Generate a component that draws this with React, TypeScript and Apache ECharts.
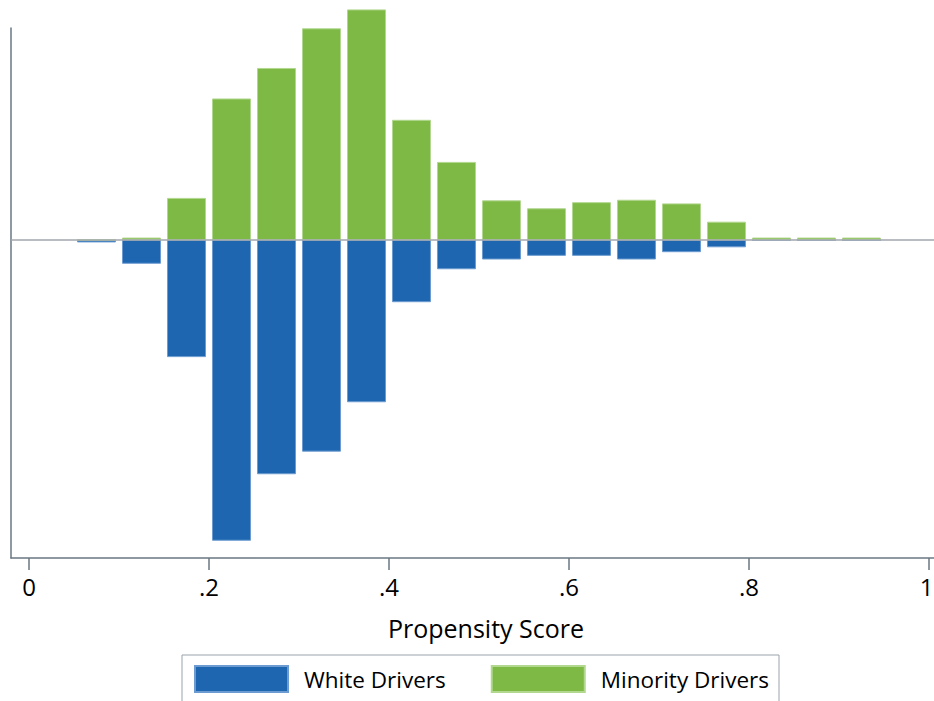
import React, { useEffect, useRef } from "react";
import * as echarts from "echarts";

// Bin midpoints of the propensity score histogram (bin width 0.05)
const binCenters = [0.075, 0.125, 0.175, 0.225, 0.275, 0.325, 0.375, 0.425, 0.475, 0.525, 0.575, 0.625, 0.675, 0.725, 0.775, 0.825, 0.875, 0.925];
// Density of minority drivers (drawn above zero)
const minorityDensity = [0, 0.04, 0.69, 2.32, 2.82, 3.47, 3.78, 1.97, 1.28, 0.65, 0.52, 0.62, 0.66, 0.6, 0.3, 0.04, 0.04, 0.04];
// Density of white drivers (drawn below zero)
const whiteDensity = [0.04, 0.39, 1.92, 4.93, 3.84, 3.47, 2.66, 1.02, 0.48, 0.32, 0.26, 0.26, 0.32, 0.2, 0.12, 0, 0, 0];
const tickValues = [0, 0.2, 0.4, 0.6, 0.8, 1];
const tickLabels = ["0", ".2", ".4", ".6", ".8", "1"];

const FONT = "Open Sans";

export default function App() {
  const ref = useRef<HTMLDivElement>(null);
  useEffect(() => {
    if (!ref.current) return;
    const chart = echarts.init(ref.current, undefined, { renderer: "svg", width: 934, height: 701 });
    const whiteData = binCenters.map((x, i) => [x, -whiteDensity[i]]);
    const minorityData = binCenters.map((x, i) => [x, minorityDensity[i]]);
    chart.setOption({
      animation: false,
      backgroundColor: "#ffffff",
      grid: { left: 11, right: 0, top: 28, bottom: 143, containLabel: false, outerBoundsMode: "none" },
      xAxis: {
        type: "value",
        min: -0.02,
        max: 1.0056,
        splitLine: { show: false },
        axisLine: { show: true, onZero: false, lineStyle: { color: "#6a7782", width: 1.5 } },
        axisTick: { show: true, customValues: tickValues, length: 12, lineStyle: { color: "#6a7782", width: 1.5 } },
        axisLabel: {
          customValues: tickValues,
          margin: 16,
          color: "#000",
          fontFamily: FONT,
          fontSize: 24,
          formatter: (v: number) => {
            const idx = tickValues.findIndex((t) => Math.abs(t - v) < 1e-6);
            if (idx < 0) return "";
            return idx === tickValues.length - 1 ? "{edge|" + tickLabels[idx] + "}" : tickLabels[idx];
          },
          rich: {
            edge: { width: 9, align: "right", color: "#000", fontFamily: FONT, fontSize: 24 },
          },
        },
        name: "Propensity Score",
        nameLocation: "middle",
        nameGap: 57,
        nameTextStyle: { color: "#000", fontFamily: FONT, fontSize: 25, padding: [0, 0, 0, 27] },
      },
      yAxis: {
        type: "value",
        min: -5.213,
        max: 3.475,
        splitLine: { show: false },
        axisLine: { show: true, onZero: false, lineStyle: { color: "#6a7782", width: 1.5 } },
        axisTick: { show: false },
        axisLabel: { show: false },
      },
      legend: {
        left: 182,
        top: 655,
        orient: "horizontal",
        itemWidth: 93,
        itemHeight: 26,
        itemGap: 45,
        padding: [10, 10, 12, 12],
        borderColor: "#9aa3ab",
        borderWidth: 1,
        borderRadius: 0,
        icon: "rect",
        textStyle: { color: "#000", fontFamily: FONT, fontSize: 22.5, padding: [0, 0, 4, 11] },
        data: ["White Drivers", "Minority Drivers"],
      },
      series: [
        {
          name: "White Drivers",
          type: "bar",
          data: whiteData,
          barWidth: 39,
          barGap: "-100%",
          clip: false,
          itemStyle: { color: "#1f66b0", borderColor: "#6b9bd0", borderWidth: 1 },
        },
        {
          name: "Minority Drivers",
          type: "bar",
          data: minorityData,
          barWidth: 39,
          barGap: "-100%",
          clip: false,
          itemStyle: { color: "#7db944", borderColor: "#b2d78f", borderWidth: 1 },
          markLine: {
            silent: true,
            symbol: "none",
            label: { show: false },
            lineStyle: { color: "#a2a6ab", width: 1.5, type: "solid" },
            data: [{ yAxis: 0 }],
          },
        },
      ],
    });
    return () => chart.dispose();
  }, []);
  return (
    <div
      ref={ref}
      style={{ position: "fixed", left: 0, top: 0, width: 934, height: 701, background: "#fff" }}
    />
  );
}
